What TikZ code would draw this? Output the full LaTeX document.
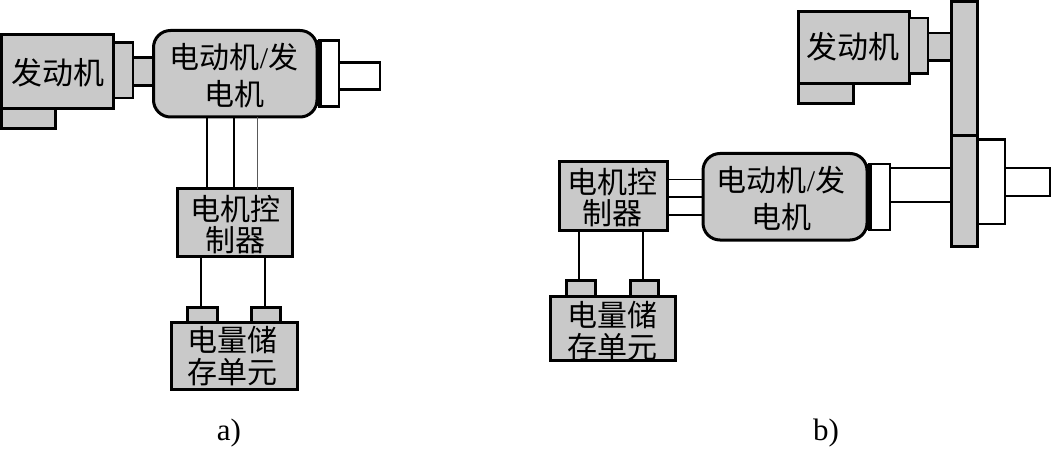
\documentclass[tikz,border=0pt]{standalone}
\usepackage{fontspec}
\setmainfont{Liberation Serif}
\newfontfamily\cjk{Noto Sans CJK SC}
\definecolor{partgray}{gray}{0.79}
\newcommand{\partbox}[6][]{%
  \pgfmathsetmacro{\pw}{#5-#3}%
  \pgfmathsetmacro{\ph}{#6-#4}%
  \pgfmathsetmacro{\pcx}{(#3+#5)/2}%
  \pgfmathsetmacro{\pcy}{(#4+#6)/2}%
  \node[part,minimum width=\pw pt,minimum height=\ph pt,#1] (#2) at (\pcx,\pcy) {};%
}
\tikzset{
  part/.style={draw=black,fill=partgray,line width=3pt,inner sep=0pt,outer sep=0pt,rectangle},
  thin part/.style={line width=2.6pt},
  clear/.style={fill=white},
  machine/.style={rounded corners=17pt},
  wire/.style={draw=black,line width=1.6pt},
  pale wire/.style={draw=black!65,line width=1.6pt},
  thick edge/.style={draw=black,line width=5pt},
  caption/.style={font=\cjk\fontsize{30}{36}\selectfont,align=center,inner sep=0pt,text=black},
  wide caption/.style={font=\cjk\fontsize{31}{36}\selectfont},
  sublabel/.style={font=\fontsize{31}{32}\selectfont,inner sep=0pt}
}
\begin{document}
\begin{tikzpicture}[x=1pt,y=-1pt]
\useasboundingbox (0,0) rectangle (1051,449);

% Left arrangement: engine on the motor axis
\partbox{footA}{1.5}{109}{55.5}{128.5}
\partbox{engineA}{1.5}{35}{113.5}{109}
\partbox[thin part]{couplerA}{113.5}{42.5}{133}{98}
\partbox[thin part]{stubA}{133}{57.5}{153.5}{85.5}
\partbox[machine]{motorA}{153.5}{30.5}{317}{117}
\partbox[thin part,clear]{outA}{339}{62.5}{380}{89.5}
\partbox[thin part,clear]{flangeA}{319.5}{40.5}{339}{106.5}
\draw[thick edge] (flangeA.north west) -- (flangeA.south west);
\partbox{ctrlA}{177}{188.5}{292}{256}
\partbox{termA}{187.5}{307}{217}{322}
\partbox{termB}{251.5}{307}{280}{322}
\partbox{battA}{171.5}{322}{297.5}{389}

\draw[wire] (motorA.south -| 207,0) -- (ctrlA.north -| 207,0);
\draw[wire] (motorA.south -| 234,0) -- (ctrlA.north -| 234,0);
\draw[pale wire] (motorA.south -| 257.5,0) -- (ctrlA.north -| 257.5,0);
\draw[wire] (ctrlA.south -| 201,0) -- (termA.north -| 201,0);
\draw[wire] (ctrlA.south -| 265,0) -- (termB.north -| 265,0);

\node[caption,wide caption] (engineAtext) at (57.5,73) {发动机};
\node[caption] (motorAtext) at (234,76) {电动机\rmfamily/\cjk 发\\[1pt]电机};
\node[caption] (ctrlAtext) at (235,224.5) {电机控\\[-5pt]制器};
\node[caption] (battAtext) at (232,356) {电量储\\[-4pt]存单元};
\node[sublabel] (capA) at (229,433) {a)};

% Right arrangement: engine geared to the motor shaft
\partbox{footB}{798.5}{83.5}{853}{104}
\partbox{engineB}{798.5}{11.5}{909}{83.5}
\partbox[thin part]{couplerB}{909}{18}{928}{73.5}
\partbox[thin part]{stubB}{928}{33}{951}{60.5}
\partbox[machine]{motorB}{703}{153.5}{867}{240}
\partbox[thin part,clear]{shaftB}{889}{168}{951}{202}
\partbox[thin part,clear]{hubB}{977}{139.5}{1005}{224}
\partbox[thin part,clear]{outB}{1005}{168}{1050}{196}
\partbox[thin part,clear]{flangeB}{869.5}{164}{890}{230}
\draw[thick edge] (flangeB.north west) -- (flangeB.south west);
\partbox{gearB}{951}{1.5}{977}{136}
\partbox{gearC}{951}{136}{977}{246}
\partbox{ctrlB}{559}{162}{667}{230}
\partbox{termC}{566.5}{280.5}{595}{296}
\partbox{termD}{630}{280.5}{658}{296}
\partbox{battB}{550.5}{296}{675}{360}

\draw[wire] (ctrlB.east |- 0,179.5) -- (motorB.west |- 0,179.5);
\draw[wire] (ctrlB.east |- 0,197) -- (motorB.west |- 0,197);
\draw[wire] (ctrlB.east |- 0,215) -- (motorB.west |- 0,215);
\draw[wire] (ctrlB.south -| 579,0) -- (termC.north -| 579,0);
\draw[wire] (ctrlB.south -| 643,0) -- (termD.north -| 643,0);

\node[caption,wide caption] (engineBtext) at (853,47) {发动机};
\node[caption] (motorBtext) at (781,199) {电动机\rmfamily/\cjk 发\\[1pt]电机};
\node[caption] (ctrlBtext) at (612,198) {电机控\\[-5pt]制器};
\node[caption] (battBtext) at (612,331) {电量储\\[-4pt]存单元};
\node[sublabel] (capB) at (826,433) {b)};
\end{tikzpicture}
\end{document}
